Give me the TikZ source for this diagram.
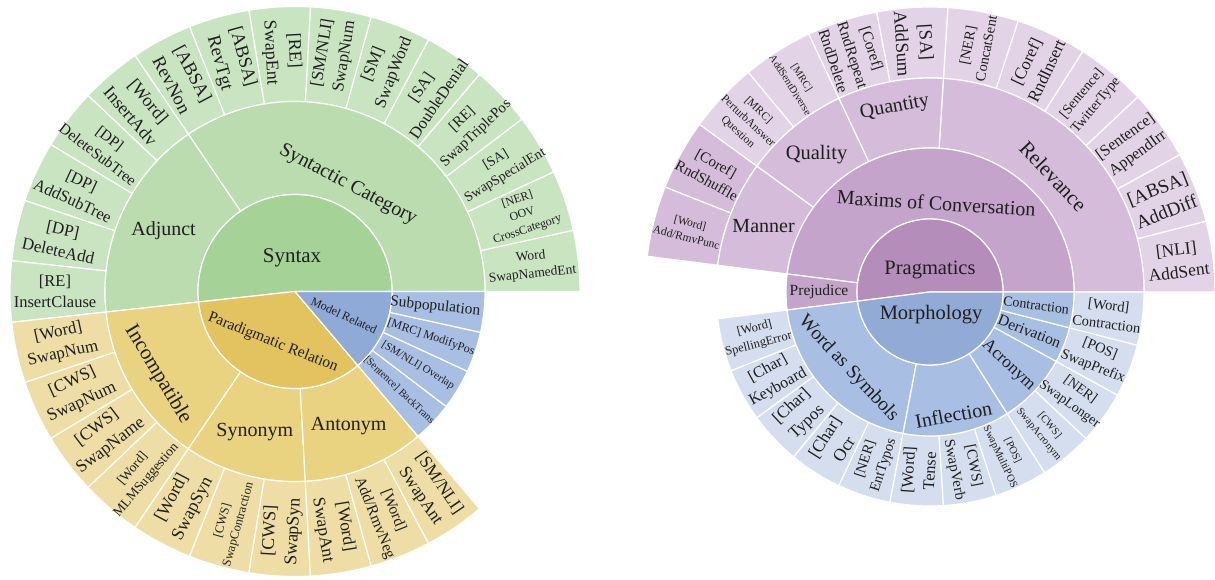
\documentclass[tikz,border=0pt]{standalone}
\usepackage{fontspec}
\setmainfont{Liberation Serif}
\usepackage{tikz}

\definecolor{synIn}{RGB}{165,210,150}
\definecolor{synMid}{RGB}{186,220,175}
\definecolor{synLeaf}{RGB}{201,228,193}
\definecolor{parIn}{RGB}{226,195,95}
\definecolor{parMid}{RGB}{233,210,128}
\definecolor{parLeaf}{RGB}{238,222,165}
\definecolor{modIn}{RGB}{143,170,214}
\definecolor{modMid}{RGB}{168,190,226}
\definecolor{praIn}{RGB}{181,141,186}
\definecolor{praMid}{RGB}{196,164,202}
\definecolor{praSub}{RGB}{212,188,218}
\definecolor{praLeaf}{RGB}{227,211,230}
\definecolor{morIn}{RGB}{146,170,214}
\definecolor{morMid}{RGB}{168,190,226}
\definecolor{morLeaf}{RGB}{212,222,238}

\tikzstyle{sunburst_style}=[
	x=1pt, y=1pt,
	wedge/.style={draw=white,line width=1.2pt,line join=round},
	txt/.style={inner sep=0pt,align=center,text=black!88}
]
\newcommand{\fsz}[1]{\fontsize{#1}{\the\dimexpr #1pt*13/10\relax}\selectfont}
% ring piece: fill, from, to (in steps), inner radius, outer radius
\newcommand{\ringpart}[5]{\filldraw[wedge,fill=#1] ({(#2)*\stp}:#4) arc[start angle={(#2)*\stp},end angle={(#3)*\stp},radius=#4] -- ({(#3)*\stp}:#5) arc[start angle={(#3)*\stp},end angle={(#2)*\stp},radius=#5] -- cycle;}
% disk piece: fill, from, to (in steps), radius
\newcommand{\diskpart}[4]{\filldraw[wedge,fill=#1] (0,0) -- ({(#2)*\stp}:#4) arc[start angle={(#2)*\stp},end angle={(#3)*\stp},radius=#4] -- cycle;}

\begin{document}
\begin{tikzpicture}[sunburst_style]
	\useasboundingbox (0,0) rectangle (1215,579);
	
	%left chart
	\begin{scope}[shift={(295,287.5)}]
		\def\stp{12.4138}
		%leaves
		\foreach \k in {0,...,14} {\ringpart{synLeaf}{\k}{\k+1}{190}{285}}
		\foreach \k in {15,...,24} {\ringpart{parLeaf}{\k}{\k+1}{190}{285}}
		
		%second ring
		\ringpart{synMid}{0}{10}{97}{190}
		\ringpart{synMid}{10}{15}{97}{190}
		\ringpart{parMid}{15}{19}{97}{190}
		\ringpart{parMid}{19}{22}{97}{190}
		\ringpart{parMid}{22}{25}{97}{190}
		\foreach \k in {25,...,28} {\ringpart{modMid}{\k}{\k+1}{97}{190}}
		
		%center
		\diskpart{synIn}{0}{15}{97}
		\diskpart{parIn}{15}{25}{97}
		\diskpart{modIn}{25}{29}{97}
		
		\node[txt,font=\fsz{21}] (syntax) at (-3,34) {Syntax};
		\node[txt,font=\fsz{15.5},rotate=-21.7] (paradigm) at (-22,-51) {Paradigmatic Relation};
		\node[txt,font=\fsz{12},rotate=-24.8] (modelrel) at (49,-24) {Model Related};
		
		\node[txt,font=\fsz{20},rotate=-27.9] (syncat) at (63.6:119) {Syntactic Category};
		\node[txt,font=\fsz{20}] (adjunct) at (155:145) {Adjunct};
		\node[txt,font=\fsz{21},rotate=-59] (incompat) at (211:160) {Incompatible};
		\node[txt,font=\fsz{20}] (synonym) at (254:146) {Synonym};
		\node[txt,font=\fsz{20}] (antonym) at (291.7:145) {Antonym};
		
		\node[txt,font=\fsz{10.5},rotate=-43.4] (backtrans) at ({25.5*\stp}:143.5) {[Sentence] BackTrans};
		\node[txt,font=\fsz{11},rotate=-31.0] (overlap) at ({26.5*\stp}:143.5) {[SM/NLI] Overlap};
		\node[txt,font=\fsz{12},rotate=-18.6] (modifypos) at ({27.5*\stp}:143.5) {[MRC] ModifyPos};
		\node[txt,font=\fsz{15.5},rotate=-6.2] (subpop) at ({28.5*\stp}:141) {Subpopulation};
		
		%syntactic category leaves
		\node[txt,font=\fsz{13.5},rotate=6.2] (s0) at ({0.5*\stp}:238) {Word\\SwapNamedEnt};
		\node[txt,font=\fsz{12},rotate=18.6] (s1) at ({1.5*\stp}:240) {[NER]\\OOV\\CrossCategory};
		\node[txt,font=\fsz{14},rotate=31.0] (s2) at ({2.5*\stp}:240) {[SA]\\SwapSpecialEnt};
		\node[txt,font=\fsz{15},rotate=43.4] (s3) at ({3.5*\stp}:240) {[RE]\\SwapTriplePos};
		\node[txt,font=\fsz{16.5},rotate=55.9] (s4) at ({4.5*\stp}:240) {[SA]\\DoubleDenial};
		\node[txt,font=\fsz{17},rotate=68.3] (s5) at ({5.5*\stp}:240) {[SM]\\SwapWord};
		\node[txt,font=\fsz{17},rotate=80.7] (s6) at ({6.5*\stp}:240) {[SM/NLI]\\SwapNum};
		\node[txt,font=\fsz{18},rotate=-86.9] (s7) at ({7.5*\stp}:240) {[RE]\\SwapEnt};
		\node[txt,font=\fsz{18.5},rotate=-74.5] (s8) at ({8.5*\stp}:240) {[ABSA]\\RevTgt};
		\node[txt,font=\fsz{18.5},rotate=-62.1] (s9) at ({9.5*\stp}:240) {[ABSA]\\RevNon};
		%adjunct leaves
		\node[txt,font=\fsz{18},rotate=-49.7] (s10) at ({10.5*\stp}:240) {[Word]\\InsertAdv};
		\node[txt,font=\fsz{15.5},rotate=-37.2] (s11) at ({11.5*\stp}:240) {[DP]\\DeleteSubTree};
		\node[txt,font=\fsz{16.5},rotate=-24.8] (s12) at ({12.5*\stp}:240) {[DP]\\AddSubTree};
		\node[txt,font=\fsz{17},rotate=-12.4] (s13) at ({13.5*\stp}:240) {[DP]\\DeleteAdd};
		\node[txt,font=\fsz{16.5}] (s14) at ({14.5*\stp}:240) {[RE]\\InsertClause};
		%incompatible leaves
		\node[txt,font=\fsz{17},rotate=12.4] (s15) at ({15.5*\stp}:240) {[Word]\\SwapNum};
		\node[txt,font=\fsz{17.5},rotate=24.8] (s16) at ({16.5*\stp}:240) {[CWS]\\SwapNum};
		\node[txt,font=\fsz{17.5},rotate=37.2] (s17) at ({17.5*\stp}:240) {[CWS]\\SwapName};
		\node[txt,font=\fsz{13.5},rotate=49.7] (s18) at ({18.5*\stp}:240) {[Word]\\MLMSuggestion};
		%synonym leaves
		\node[txt,font=\fsz{18},rotate=62.1] (s19) at ({19.5*\stp}:240) {[Word]\\SwapSyn};
		\node[txt,font=\fsz{12.5},rotate=74.5] (s20) at ({20.5*\stp}:240) {[CWS]\\SwapContraction};
		\node[txt,font=\fsz{18},rotate=86.9] (s21) at ({21.5*\stp}:240) {[CWS]\\SwapSyn};
		%antonym leaves
		\node[txt,font=\fsz{17.5},rotate=-80.7] (s22) at ({22.5*\stp}:240) {[Word]\\SwapAnt};
		\node[txt,font=\fsz{15.5},rotate=-68.3] (s23) at ({23.5*\stp}:240) {[Word]\\Add/RmvNeg};
		\node[txt,font=\fsz{17.5},rotate=-55.9] (s24) at ({24.5*\stp}:240) {[SM/NLI]\\SwapAnt};
	\end{scope}
	
	%right chart
	\begin{scope}[shift={(930,287)}]
		\def\stp{14.4}
		%leaves
		\foreach \k in {0,...,9} {\ringpart{praLeaf}{\k}{\k+1}{214}{285}}
		\foreach \k in {10,11} {\ringpart{praSub}{\k}{\k+1}{214}{285}}
		
		%third ring
		\ringpart{praSub}{0}{6}{144}{214}
		\ringpart{praSub}{6}{8}{144}{214}
		\ringpart{praSub}{8}{10}{144}{214}
		\ringpart{praSub}{10}{12}{144}{214}
		\foreach \k in {13,...,24} {\ringpart{morLeaf}{\k}{\k+1}{144}{214}}
		
		%second ring
		\ringpart{praMid}{0}{12}{73}{144}
		\ringpart{praMid}{12}{13}{73}{144}
		\ringpart{morMid}{13}{18}{73}{144}
		\ringpart{morMid}{18}{21}{73}{144}
		\ringpart{morMid}{21}{23}{73}{144}
		\ringpart{morMid}{23}{24}{73}{144}
		\ringpart{morMid}{24}{25}{73}{144}
		
		%center
		\diskpart{praIn}{0}{13}{73}
		\diskpart{morIn}{13}{25}{73}
		
		\node[txt,font=\fsz{20.5}] (pragmatics) at (0,22) {Pragmatics};
		\node[txt,font=\fsz{20.5}] (morphology) at (1,-23) {Morphology};
		
		\node[txt,font=\fsz{20},rotate=-3.6] (maxims) at (86:89) {Maxims of Conversation};
		\node[txt,font=\fsz{15.5}] (prejudice) at (180:111) {Prejudice};
		\node[txt,font=\fsz{19.5},rotate=-46.8] (wordsym) at (223.2:112) {Word as Symbols};
		\node[txt,font=\fsz{20},rotate=10.8] (inflection) at (280.8:125) {Inflection};
		\node[txt,font=\fsz{17.5},rotate=-43.2] (acronym) at (316.8:107.5) {Acronym};
		\node[txt,font=\fsz{15.5},rotate=-21.6] (derivation) at (338.4:107) {Derivation};
		\node[txt,font=\fsz{14},rotate=-7.2] (contraction) at (352.8:107) {Contraction};
		
		\node[txt,font=\fsz{21},rotate=-46.8] (relevance) at (43.2:169) {Relevance};
		\node[txt,font=\fsz{20},rotate=10.8] (quantity) at (100.8:188) {Quantity};
		\node[txt,font=\fsz{20.5}] (quality) at (129.6:178) {Quality};
		\node[txt,font=\fsz{20}] (manner) at (158.4:179) {Manner};
		
		%maxims leaves
		\node[txt,font=\fsz{17.5},rotate=7.2] (p0) at ({0.5*\stp}:249.5) {[NLI]\\AddSent};
		\node[txt,font=\fsz{19},rotate=21.6] (p1) at ({1.5*\stp}:249.5) {[ABSA]\\AddDiff};
		\node[txt,font=\fsz{16},rotate=36] (p2) at ({2.5*\stp}:249.5) {[Sentence]\\AppendIrr};
		\node[txt,font=\fsz{14},rotate=50.4] (p3) at ({3.5*\stp}:249.5) {[Sentence]\\TwitterType};
		\node[txt,font=\fsz{17},rotate=64.8] (p4) at ({4.5*\stp}:249.5) {[Coref]\\RndInsert};
		\node[txt,font=\fsz{14.5},rotate=79.2] (p5) at ({5.5*\stp}:249.5) {[NER]\\ConcatSent};
		\node[txt,font=\fsz{18.5},rotate=-86.4] (p6) at ({6.5*\stp}:249.5) {[SA]\\AddSum};
		\node[txt,font=\fsz{15.5},rotate=-72] (p7) at ({7.5*\stp}:249.5) {[Coref]\\RndRepeat\\RndDelete};
		\node[txt,font=\fsz{10.5},rotate=-57.6] (p8) at ({8.5*\stp}:249.5) {[MRC]\\AddSentDiverse};
		\node[txt,font=\fsz{11.5},rotate=-43.2] (p9) at ({9.5*\stp}:249.5) {[MRC]\\PerturbAnswer\\Question};
		\node[txt,font=\fsz{15},rotate=-28.8] (p10) at ({10.5*\stp}:249.5) {[Coref]\\RndShuffle};
		\node[txt,font=\fsz{11.5},rotate=-14.4] (p11) at ({11.5*\stp}:249.5) {[Word]\\Add/RmvPunc};
		
		%morphology leaves
		\node[txt,font=\fsz{12.5},rotate=14.4] (p13) at ({13.5*\stp}:179) {[Word]\\SpellingError};
		\node[txt,font=\fsz{16},rotate=28.8] (p14) at ({14.5*\stp}:179) {[Char]\\Keyboard};
		\node[txt,font=\fsz{17},rotate=43.2] (p15) at ({15.5*\stp}:179) {[Char]\\Typos};
		\node[txt,font=\fsz{17.5},rotate=57.6] (p16) at ({16.5*\stp}:179) {[Char]\\Ocr};
		\node[txt,font=\fsz{14.5},rotate=72] (p17) at ({17.5*\stp}:179) {[NER]\\EntTypos};
		\node[txt,font=\fsz{16.5},rotate=86.4] (p18) at ({18.5*\stp}:179) {[Word]\\Tense};
		\node[txt,font=\fsz{15},rotate=-79.2] (p19) at ({19.5*\stp}:179) {[CWS]\\SwapVerb};
		\node[txt,font=\fsz{10.7},rotate=-64.8] (p20) at ({20.5*\stp}:179) {[POS]\\SwapMultiPOS};
		\node[txt,font=\fsz{10.7},rotate=-50.4] (p21) at ({21.5*\stp}:179) {[CWS]\\SwapAcronym};
		\node[txt,font=\fsz{14},rotate=-36] (p22) at ({22.5*\stp}:179) {[NER]\\SwapLonger};
		\node[txt,font=\fsz{14.5},rotate=-21.6] (p23) at ({23.5*\stp}:179) {[POS]\\SwapPrefix};
		\node[txt,font=\fsz{14.5},rotate=-7.2] (p24) at ({24.5*\stp}:179) {[Word]\\Contraction};
	\end{scope}
	
\end{tikzpicture}
\end{document}
